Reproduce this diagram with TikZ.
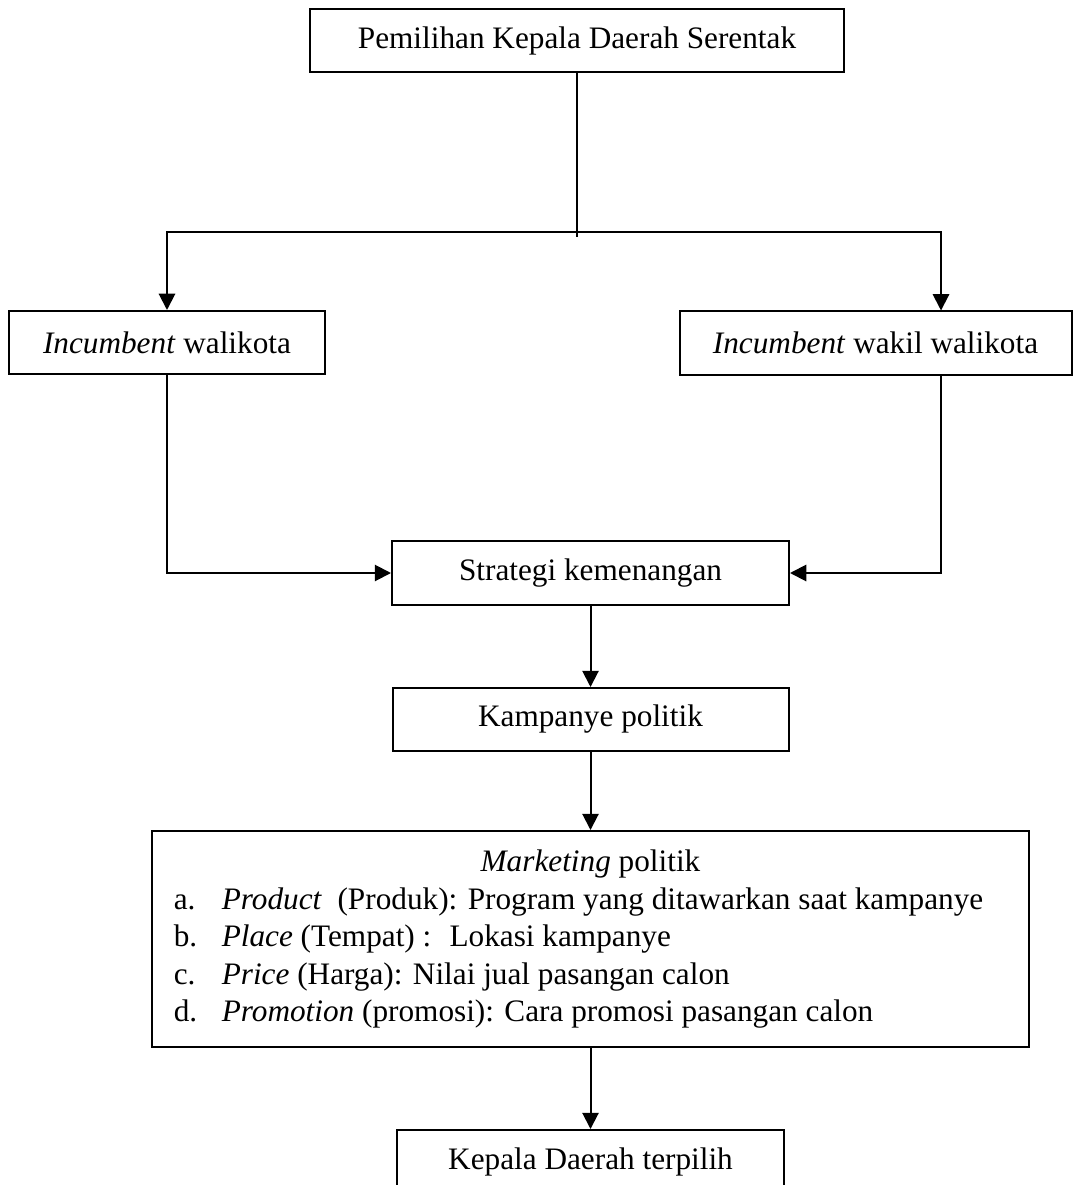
\documentclass[tikz,border=0pt]{standalone}
\usepackage{fontspec}
\setmainfont{Liberation Serif}
\usetikzlibrary{positioning, arrows.meta}

\tikzset{
  kotak/.style={draw, line width=0.8pt, inner sep=0pt, minimum height=25.2pt,
    font=\fontsize{12.5}{15}\selectfont},
  garis/.style={line width=0.8pt},
  panah/.style={line width=0.8pt, -{Triangle[length=6.5pt,width=6.5pt]}}
}

\begin{document}
\begin{tikzpicture}[x=0.4pt, y=-0.4pt]
  \useasboundingbox (0,0) rectangle (1073,1185);
  \clip (0,0) rectangle (1073,1185);

  % Kotak paling atas
  \node[kotak, minimum width=213.6pt] (pilkada) at (577,40.5) {Pemilihan Kepala Daerah Serentak};

  % Dua incumbent
  \node[kotak, minimum width=126.4pt] (walikota) at (167,342.5) {\textit{Incumbent} walikota};
  \node[kotak, minimum width=156.8pt] (wakil) at (875.5,343) {\textit{Incumbent} wakil walikota};

  % Alur tengah (ditumpuk ke bawah)
  \node[kotak, minimum width=158.8pt, minimum height=25.6pt] (strategi) at (590.5,573) {Strategi kemenangan};
  \node[kotak, minimum width=158.4pt, below=32.4pt of strategi] (kampanye) {Kampanye politik};
  \node[kotak, minimum width=350.4pt, minimum height=86.4pt, below=31.2pt of kampanye] (marketing) {%
    \begin{tabular}{@{}p{19.2pt}@{}l@{\hspace{9.6pt}}}
      \multicolumn{2}{@{}c@{}}{\textit{Marketing} politik}\\
      a. & \textit{Product}~ (Produk): Program yang ditawarkan saat kampanye\\
      b. & \textit{Place} (Tempat) :~ Lokasi kampanye\\
      c. & \textit{Price} (Harga): Nilai jual pasangan calon\\
      d. & \textit{Promotion} (promosi): Cara promosi pasangan calon
    \end{tabular}};
  \node[kotak, minimum width=154.8pt, below=32.4pt of marketing] (terpilih) {Kepala Daerah terpilih};

  % Percabangan
  \coordinate (cabang) at (577,232);
  \coordinate (kanan) at (941,232);
  \draw[garis] (pilkada.south) -- (cabang) -- +(0,5);
  \draw[panah] (cabang) -| (walikota.north);
  \draw[panah] (cabang) -| (kanan |- wakil.north);

  % Menuju strategi
  \draw[panah] (walikota.south) |- (strategi.west);
  \draw[panah] (kanan |- wakil.south) |- (strategi.east);

  % Rantai ke bawah
  \draw[panah] (strategi) -- (kampanye);
  \draw[panah] (kampanye) -- (marketing);
  \draw[panah] (marketing) -- (terpilih);
\end{tikzpicture}
\end{document}
